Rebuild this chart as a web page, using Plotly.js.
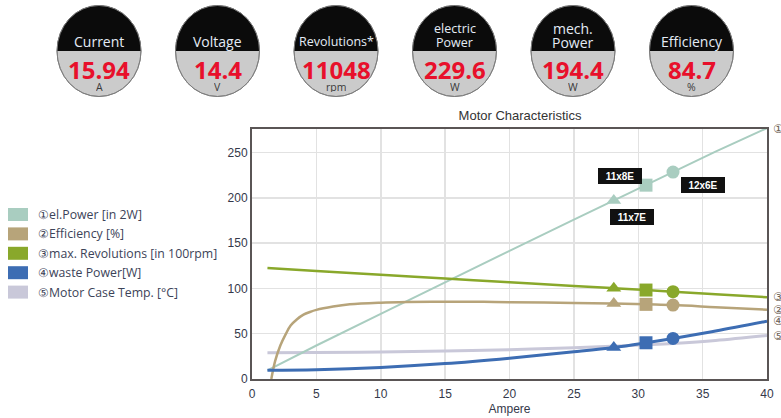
<!DOCTYPE html>
<html><head><meta charset="utf-8">
<script src="https://cdn.plot.ly/plotly-3.0.1.min.js"></script>
<style>html,body{margin:0;padding:0;background:#fff;overflow:hidden}#chart{width:781px;height:418px;}</style>
</head><body><div id="chart"></div>
<script>
// ---- data ----
const gaugeTitles = ["Current", "Voltage", "Revolutions*", "electric\nPower", "mech.\nPower", "Efficiency"];
const gaugeValues = ["15.94", "14.4", "11048", "229.6", "194.4", "84.7"];
const gaugeUnits = ["A", "V", "rpm", "W", "W", "%"];

const seriesNames = ["①el.Power [in 2W]", "②Efficiency [%]", "③max. Revolutions [in 100rpm]", "④waste Power[W]", "⑤Motor Case Temp. [°C]"];
const seriesTags = ["①", "②", "③", "④", "⑤"];

const ampere = [1.2, 5, 10, 15, 20, 25, 28.1, 30.6, 32.7, 36, 40];
const elPower = [9.6, 37, 72, 107, 141.5, 176, 197, 214, 228.5, 251, 277];
const maxRevolutions = [122.5, 119.3, 115, 111, 106.8, 102.6, 100.3, 98.2, 96.4, 93.7, 90.3];
const wastePower = [9.6, 10.3, 12.8, 17, 23, 30, 34.8, 40, 44.8, 53, 63.8];
const caseTemp = [29, 29.2, 29.8, 30.8, 32.3, 34.5, 36.2, 37.8, 39.3, 42.5, 48];

const effAmpere = [1.5, 1.8, 2.2, 2.6, 3, 3.5, 4, 4.5, 5, 6.3, 7.6, 10, 12, 15, 18, 20, 25, 28.1, 30.6, 32.7, 36, 40];
const efficiency = [0, 20, 37, 49, 59, 66, 71, 74, 76.3, 80, 82.5, 84.3, 85, 85.3, 85.2, 84.8, 84, 83.4, 82.4, 81.6, 79.3, 76.5];

const markerAmpere = [28.1, 30.6, 32.7];
const markerSymbols = ["triangle-up", "square", "circle"];
const markerLabels = ["11x7E", "11x8E", "12x6E"];

// ---- styles ----
const colors = ["#a9cdc0", "#b7a47a", "#89a82b", "#3d6db3", "#c9c8d9"];
const widths = [2, 2.5, 2.5, 3, 3];
const Y_MAX = 276;
const ML = 252, MR = 14, MT = 129, MB = 39, W = 781, H = 418;
const PW = W - ML - MR, PH = H - MT - MB;
const px = X => (X - ML) / PW;
const py = Y => (H - MB - Y) / PH;

const xs = [ampere, effAmpere, ampere, ampere, ampere];
const ys = [elPower, efficiency, maxRevolutions, wastePower, caseTemp];

const traces = [];
[4, 0, 1, 2, 3].forEach(k => {
  traces.push({
    x: xs[k], y: ys[k], type: 'scatter', mode: 'lines', name: seriesNames[k],
    line: {color: colors[k], width: widths[k], shape: k === 0 ? 'linear' : 'spline', smoothing: 1},
    hoverinfo: 'skip', showlegend: false
  });
});
[0, 1, 2, 3].forEach(k => {
  const mx = [], my = [];
  markerAmpere.forEach(a => {
    const idx = xs[k].indexOf(a);
    mx.push(a); my.push(ys[k][idx]);
  });
  traces.push({
    x: mx, y: my, type: 'scatter', mode: 'markers', showlegend: false, hoverinfo: 'skip',
    marker: {color: colors[k], size: 13, symbol: markerSymbols, line: {width: 0}}
  });
});

const shapes = [];
const annotations = [];
const gfont = "Open Sans, Liberation Sans, sans-serif";

// gauges
gaugeTitles.forEach((t, i) => {
  const cx = 99 + 118.5 * i, cy = 51, rx = 42, ry = 45.5, k = 0.5523;
  shapes.push({type: 'circle', xref: 'paper', yref: 'paper', layer: 'above',
    x0: px(cx - rx), x1: px(cx + rx), y0: py(cy + ry), y1: py(cy - ry),
    fillcolor: '#cbcbcb', line: {color: '#8c8c8c', width: 1}});
  const pts = [[cx - rx, cy], [cx - rx, cy - k * ry], [cx - k * rx, cy - ry], [cx, cy - ry],
               [cx + k * rx, cy - ry], [cx + rx, cy - k * ry], [cx + rx, cy]];
  const f = p => px(p[0]) + ',' + py(p[1]);
  const path = 'M' + f(pts[0]) + ' C' + f(pts[1]) + ' ' + f(pts[2]) + ' ' + f(pts[3]) +
               ' C' + f(pts[4]) + ' ' + f(pts[5]) + ' ' + f(pts[6]) + ' Z';
  shapes.push({type: 'path', xref: 'paper', yref: 'paper', layer: 'above', path: path,
    fillcolor: '#0b0b0b', line: {width: 0}});
  shapes.push({type: 'circle', xref: 'paper', yref: 'paper', layer: 'above',
    x0: px(cx - rx), x1: px(cx + rx), y0: py(cy + ry), y1: py(cy - ry),
    fillcolor: 'rgba(0,0,0,0)', line: {color: '#7d7d7d', width: 1}});
  const lines = t.split('\n');
  const tsize = t.length > 11 ? 12.5 : 14;
  const ty = lines.length === 1 ? [42] : [28.5, 42.5];
  lines.forEach((ln, j) => {
    annotations.push({xref: 'paper', yref: 'paper', x: px(cx), y: py(ty[j]), text: ln, showarrow: false,
      xanchor: 'center', yanchor: 'middle', font: {family: gfont, size: tsize, color: '#e4ebf6'}});
  });
  annotations.push({xref: 'paper', yref: 'paper', x: px(cx), y: py(69), text: gaugeValues[i], showarrow: false,
    xanchor: 'center', yanchor: 'middle', height: 22, valign: 'middle',
    font: {family: gfont, size: 24, color: '#e8102b', weight: 700}});
  annotations.push({xref: 'paper', yref: 'paper', x: px(cx), y: py(87), text: gaugeUnits[i], showarrow: false,
    xanchor: 'center', yanchor: 'middle', height: 10, valign: 'middle',
    font: {family: gfont, size: 10.5, color: '#3a3a3a'}});
});

// custom legend
seriesNames.forEach((n, i) => {
  const yc = 214.5 + 19.4 * i;
  shapes.push({type: 'rect', xref: 'paper', yref: 'paper', x0: px(8), x1: px(28), y0: py(yc + 6.5), y1: py(yc - 6.5),
    fillcolor: colors[i], line: {width: 0}});
  annotations.push({xref: 'paper', yref: 'paper', x: px(36), y: py(yc), text: n, showarrow: false,
    xanchor: 'left', yanchor: 'middle', font: {family: gfont, size: 12.3, color: '#3c4358'}});
});

// right-edge series tags (partly cut off by the page edge, as in the original)
ys.forEach((arr, i) => {
  annotations.push({xref: 'paper', yref: 'y', x: px(778), y: Math.min(arr[arr.length - 1], Y_MAX), text: seriesTags[i],
    showarrow: false, xanchor: 'center', yanchor: 'middle', font: {family: 'DejaVu Sans, Noto Sans CJK JP', size: 12, color: '#6e6256'}});
});

// marker labels (on el.Power markers)
const labelShift = [[18, -16], [-26, 9], [30, -13]];
markerAmpere.forEach((a, j) => {
  annotations.push({x: a, y: elPower[ampere.indexOf(a)], xref: 'x', yref: 'y', text: markerLabels[j], showarrow: false,
    xshift: labelShift[j][0], yshift: labelShift[j][1], width: 40, height: 12,
    bgcolor: '#111111', bordercolor: '#111111', borderwidth: 1, borderpad: 1,
    font: {family: 'Liberation Sans, Arial, sans-serif', size: 10, color: '#ffffff', weight: 700}});
});

const axisFont = {family: 'Liberation Sans, Arial, sans-serif', size: 12, color: '#35394a'};
const layout = {
  width: W, height: H,
  margin: {l: ML, r: MR, t: MT, b: MB, pad: 0},
  paper_bgcolor: '#ffffff', plot_bgcolor: '#ffffff',
  showlegend: false,
  title: {text: 'Motor Characteristics', font: {family: 'Liberation Sans, Arial, sans-serif', size: 13, color: '#333'},
    xref: 'paper', x: px(520), xanchor: 'center', yref: 'container', y: 1 - 115 / H, yanchor: 'middle'},
  xaxis: {range: [0, 40], dtick: 5, tick0: 0, showgrid: true, gridcolor: '#e2e2e2', gridwidth: 1.5,
    zeroline: false, showline: true, linecolor: '#5a5555', linewidth: 2, mirror: true, ticks: '',
    tickfont: axisFont, fixedrange: true, ticklabelstandoff: 3,
    title: {text: 'Ampere', font: {family: 'Liberation Sans, Arial, sans-serif', size: 12, color: '#35394a'}, standoff: 4}},
  yaxis: {range: [0, Y_MAX], dtick: 50, tick0: 0, showgrid: true, gridcolor: '#e2e2e2', gridwidth: 1.5,
    zeroline: false, showline: true, linecolor: '#5a5555', linewidth: 2, mirror: true, ticks: '',
    tickfont: axisFont, fixedrange: true},
  shapes: shapes,
  annotations: annotations
};
Plotly.newPlot('chart', traces, layout, {staticPlot: true, displayModeBar: false});
</script>
</body></html>
